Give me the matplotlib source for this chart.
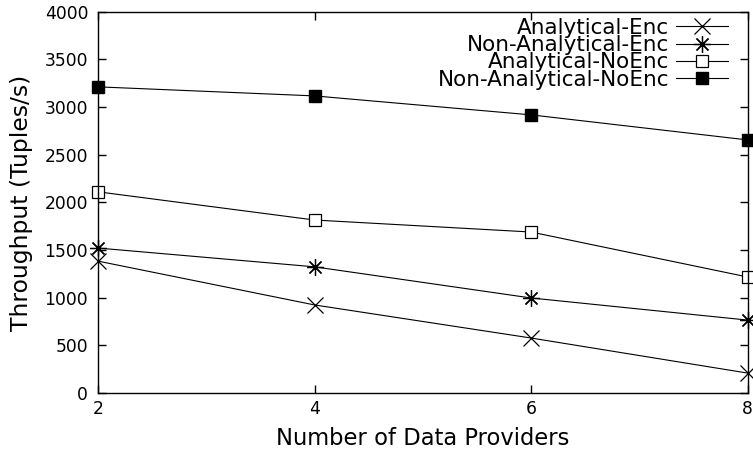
import matplotlib
matplotlib.use("Agg")
import matplotlib.pyplot as plt

plt.rcParams['font.family'] = ['DejaVu Sans']

providers = [2, 4, 6, 8]
analytical_enc = [1385, 925, 578, 210]
non_analytical_enc = [1522, 1325, 998, 766]
analytical_noenc = [2112, 1816, 1690, 1218]
non_analytical_noenc = [3213, 3118, 2919, 2656]
yticks = [0, 500, 1000, 1500, 2000, 2500, 3000, 3500, 4000]

fig = plt.figure(figsize=(7.53, 4.55), dpi=100)
ax = fig.add_axes([0.130, 0.136, 0.863, 0.838])

lw = 0.8
ax.plot(providers, analytical_enc, color='black', lw=lw, marker='x', markersize=11,
        markeredgewidth=0.9, label='Analytical-Enc', clip_on=False)
ax.plot(providers, non_analytical_enc, color='black', lw=lw, marker=(8, 2, 0), markersize=12,
        markeredgewidth=0.9, label='Non-Analytical-Enc', clip_on=False)
ax.plot(providers, analytical_noenc, color='black', lw=lw, marker='s', markersize=9,
        markerfacecolor='white', markeredgewidth=0.9, label='Analytical-NoEnc', clip_on=False)
ax.plot(providers, non_analytical_noenc, color='black', lw=lw, marker='s', markersize=9,
        markerfacecolor='black', label='Non-Analytical-NoEnc', clip_on=False)

ax.set_xlim(2, 8)
ax.set_ylim(0, 4000)
ax.set_xticks(providers)
ax.set_yticks(yticks)
ax.tick_params(direction='in', length=6, width=1, top=True, right=True, labelsize=12.3)
ax.tick_params(axis='y', pad=7)
ax.tick_params(axis='x', pad=5)
for s in ax.spines.values():
    s.set_linewidth(1)

ax.set_xlabel('Number of Data Providers', fontsize=16.3, labelpad=6.5)
ax.set_ylabel('Throughput (Tuples/s)', fontsize=16.9, labelpad=8)

leg = ax.legend(loc='upper right', markerfirst=False, frameon=False, fontsize=15.5,
                labelspacing=-0.13, handlelength=2.4, handletextpad=0.33,
                borderpad=0, borderaxespad=0,
                bbox_to_anchor=(728 / 753, 1 - 18 / 455), bbox_transform=fig.transFigure)

fig.savefig('out.png', dpi=100)
